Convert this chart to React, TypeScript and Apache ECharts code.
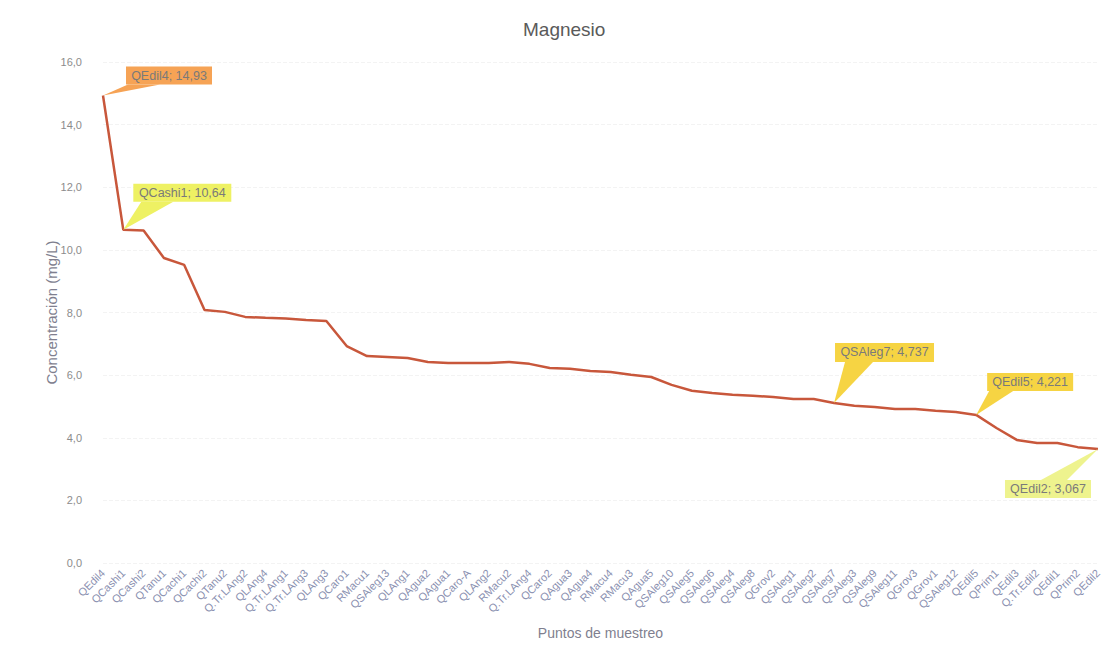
import React, { useEffect, useRef } from "react";
import * as echarts from "echarts";

const categories = [
  "QEdil4", "QCashi1", "QCashi2", "QTanu1", "QCachi1", "QCachi2", "QTanu2", "Q.Tr.LAng2", "QLAng4", "Q.Tr.LAng1",
  "Q.Tr.LAng3", "QLAng3", "QCaro1", "RMacu1", "QSAleg13", "QLAng1", "QAgua2", "QAgua1", "QCaro-A", "QLAng2",
  "RMacu2", "Q.Tr.LAng4", "QCaro2", "QAgua3", "QAgua4", "RMacu4", "RMacu3", "QAgua5", "QSAleg10", "QSAleg5",
  "QSAleg6", "QSAleg4", "QSAleg8", "QGrov2", "QSAleg1", "QSAleg2", "QSAleg7", "QSAleg3", "QSAleg9", "QSAleg11",
  "QGrov3", "QGrov1", "QSAleg12", "QEdil5", "QPrim1", "QEdil3", "Q.Tr.Edil2", "QEdil1", "QPrim2", "QEdil2",
];

const magnesio = [
  14.93, 10.64, 10.62, 9.74, 9.52, 8.08, 8.02, 7.86, 7.83, 7.81,
  7.76, 7.73, 6.93, 6.61, 6.58, 6.55, 6.42, 6.39, 6.39, 6.39,
  6.42, 6.36, 6.23, 6.2, 6.13, 6.1, 6.01, 5.94, 5.69, 5.5,
  5.43, 5.37, 5.34, 5.3, 5.24, 5.24, 5.11, 5.02, 4.98, 4.92,
  4.92, 4.86, 4.82, 4.73, 4.31, 3.93, 3.83, 3.83, 3.7, 3.64,
];

const calloutPoints = ["QEdil4", "QCashi1", "QSAleg7", "QEdil5", "QEdil2"];
const calloutTexts = ["QEdil4; 14,93", "QCashi1; 10,64", "QSAleg7; 4,737", "QEdil5; 4,221", "QEdil2; 3,067"];
const calloutColors = ["#f6a355", "#eef163", "#f6d443", "#f6d443", "#eef38e"];

const calloutLayout = [
  { dx: 23, dy: -29, w: 86, h: 18, b1: 2, b2: 34, edge: "bottom" },
  { dx: 10, dy: -46, w: 98, h: 18, b1: 8, b2: 40, edge: "bottom" },
  { dx: 1, dy: -60, w: 99, h: 19, b1: 10, b2: 38, edge: "bottom" },
  { dx: 11, dy: -42, w: 86, h: 18, b1: 2, b2: 26, edge: "bottom" },
  { dx: -93, dy: 31, w: 86, h: 18, b1: 36, b2: 62, edge: "top" },
];

export default function App() {
  const ref = useRef<HTMLDivElement>(null);
  useEffect(() => {
    if (!ref.current) return;
    const chart = echarts.init(ref.current, null, { renderer: "svg" });
    const font = "Liberation Sans, Arial, sans-serif";
    chart.setOption({
      animation: false,
      backgroundColor: "#ffffff",
      title: {
        text: "Magnesio",
        left: 518,
        top: 15,
        textStyle: { fontFamily: font, fontSize: 19, fontWeight: "normal", color: "#5a5a5a" },
      },
      grid: { left: 103, right: 6, top: 62, bottom: 89, containLabel: false },
      xAxis: {
        type: "category",
        data: categories,
        boundaryGap: false,
        name: "Puntos de muestreo",
        nameLocation: "middle",
        nameGap: 63,
        nameMoveOverlap: false,
        nameTextStyle: { fontFamily: font, fontSize: 14, color: "#7f7f8f" },
        axisLine: { show: false },
        axisTick: { show: false },
        axisLabel: {
          interval: 0,
          rotate: 45,
          margin: 8,
          fontFamily: font,
          fontSize: 11,
          color: "#8a90b0",
        },
        splitLine: { show: false },
      },
      yAxis: {
        type: "value",
        min: 0,
        max: 16,
        interval: 2,
        name: "Concentración (mg/L)",
        nameLocation: "middle",
        nameGap: 44,
        nameMoveOverlap: false,
        nameTextStyle: { fontFamily: font, fontSize: 15, color: "#7f7f8f" },
        axisLine: { show: false },
        axisTick: { show: false },
        axisLabel: {
          margin: 21,
          fontFamily: font,
          fontSize: 11,
          color: "#8c8c8c",
          formatter: (v: number) => v.toFixed(1).replace(".", ","),
        },
        splitLine: { show: true, lineStyle: { color: "#f3f3f3", width: 1, type: "dashed" } },
      },
      series: [
        {
          type: "line",
          data: magnesio,
          showSymbol: false,
          symbol: "none",
          lineStyle: { color: "#c8573b", width: 2.5 },
          z: 3,
        },
      ],
    });

    const graphics: any[] = [];
    calloutPoints.forEach((name, i) => {
      const idx = categories.indexOf(name);
      const p = chart.convertToPixel({ seriesIndex: 0 }, [idx, magnesio[idx]]) as number[];
      const L = calloutLayout[i];
      const bx = p[0] + L.dx;
      const by = p[1] + L.dy;
      const ey = L.edge === "bottom" ? by + L.h : by;
      graphics.push({
        type: "polygon",
        shape: { points: [[p[0], p[1]], [bx + L.b1, ey], [bx + L.b2, ey]] },
        style: { fill: calloutColors[i] },
        z: 10,
      });
      graphics.push({
        type: "rect",
        shape: { x: bx, y: by, width: L.w, height: L.h },
        style: { fill: calloutColors[i] },
        z: 10,
      });
      graphics.push({
        type: "text",
        x: bx + L.w / 2,
        y: by + L.h / 2,
        style: {
          text: calloutTexts[i],
          fill: "#7a7a7a",
          font: `12.5px ${font}`,
          align: "center",
          verticalAlign: "middle",
        },
        z: 11,
      });
    });
    chart.setOption({ graphic: graphics });

    return () => chart.dispose();
  }, []);
  return (
    <div
      ref={ref}
      style={{ position: "fixed", left: 0, top: 0, width: 1104, height: 652 }}
    />
  );
}
